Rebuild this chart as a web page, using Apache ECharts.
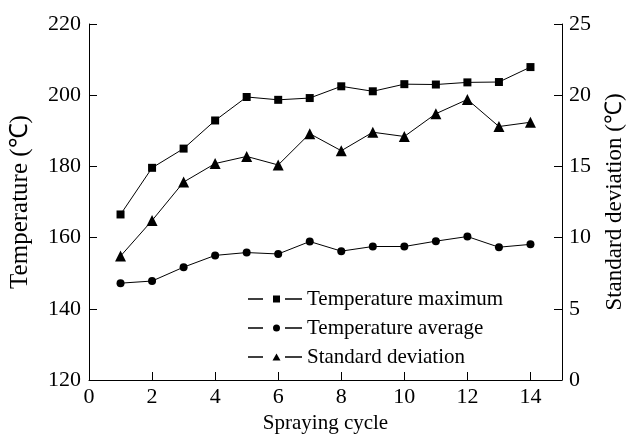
<!DOCTYPE html>
<html><head><meta charset="utf-8">
<script src="https://cdn.jsdelivr.net/npm/echarts@6/dist/echarts.min.js"></script>
<style>html,body{margin:0;padding:0;background:#fff}#c{width:634px;height:441px}</style>
</head><body><div id="c"></div>
<script>
const cycles = [1,2,3,4,5,6,7,8,9,10,11,12,13,14];
const tempMax = [166.5,179.6,185.0,192.9,199.5,198.7,199.2,202.5,201.1,203.1,203.0,203.6,203.7,207.9];
const tempAvg = [147.2,147.8,151.7,155.0,155.8,155.4,158.9,156.2,157.5,157.5,159.0,160.3,157.3,158.1];
const stdDev = [8.7,11.2,13.9,15.2,15.7,15.1,17.3,16.1,17.4,17.1,18.7,19.7,17.8,18.1];
const names = ['Temperature maximum','Temperature average','Standard deviation'];

const font = 'Liberation Serif, Times New Roman, serif';
const pair = (ys) => cycles.map((x,i)=>[x, ys[i]]);
const axisCommon = {
  axisLine:{show:true,lineStyle:{color:'#000',width:1}},
  axisTick:{show:true,inside:true,length:8,lineStyle:{color:'#000'}},
  splitLine:{show:false},
  axisLabel:{color:'#000',fontFamily:font,fontSize:22},
  nameTextStyle:{color:'#000',fontFamily:font,fontSize:22},
  nameLocation:'middle'
};
const lines = 'M0,3.3h15v1.4h-15z M37,3.3h17v1.4h-17z ';
const icons = [
  'path://' + lines + 'M25,0.5h7v7h-7z',
  'path://' + lines + 'M32,4a3.5,3.5 0 1,0 -7,0a3.5,3.5 0 1,0 7,0z',
  'path://' + lines + 'M28.5,0.5L32.5,7.5L24.5,7.5z'
];
const chart = echarts.init(document.getElementById('c'));
const lineStyle = {color:'#000',width:1};
chart.setOption({
  animation:false,
  grid:{left:88,right:68,top:24,bottom:61},
  xAxis:Object.assign({},axisCommon,{type:'value',min:0,max:15,interval:2,name:'Spraying cycle',nameGap:22,
    nameTextStyle:{color:'#000',fontFamily:font,fontSize:21},
    axisLabel:Object.assign({},axisCommon.axisLabel,{showMaxLabel:false,margin:6})}),
  yAxis:[
    Object.assign({},axisCommon,{type:'value',min:120,max:220,interval:20,name:'Temperature (℃)',nameGap:56,
      nameTextStyle:{color:'#000',fontFamily:font,fontSize:25},
      axisLabel:Object.assign({},axisCommon.axisLabel,{margin:8})}),
    Object.assign({},axisCommon,{type:'value',position:'right',min:0,max:25,interval:5,name:'Standard deviation (℃)',nameGap:41,
      nameTextStyle:{color:'#000',fontFamily:font,fontSize:23},
      axisLabel:Object.assign({},axisCommon.axisLabel,{margin:7})})
  ],
  legend:{
    left:243,top:283,orient:'vertical',itemGap:7,itemWidth:54,itemHeight:8,
    textStyle:{color:'#000',fontFamily:font,fontSize:21,lineHeight:22},
    data:names.map((n,i)=>({name:n,icon:icons[i],itemStyle:{color:'#000'}}))
  },
  series:[
    {name:names[0],type:'line',yAxisIndex:0,data:pair(tempMax),symbol:'rect',symbolSize:8,
      lineStyle:lineStyle,itemStyle:{color:'#000'}},
    {name:names[1],type:'line',yAxisIndex:0,data:pair(tempAvg),symbol:'circle',symbolSize:8,
      lineStyle:lineStyle,itemStyle:{color:'#000'}},
    {name:names[2],type:'line',yAxisIndex:1,data:pair(stdDev),symbol:'triangle',symbolSize:11,
      lineStyle:lineStyle,itemStyle:{color:'#000'}}
  ]
});
</script></body></html>
